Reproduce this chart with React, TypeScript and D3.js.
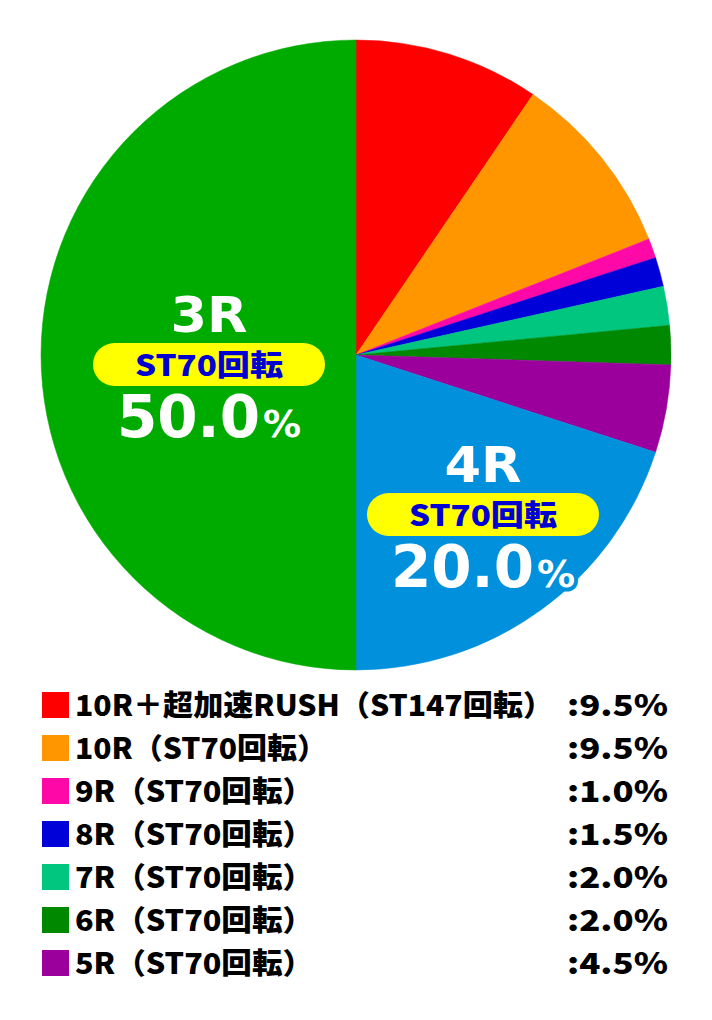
import * as d3 from 'd3';

const NAMES = [
  '10R＋超加速RUSH（ST147回転）',
  '10R（ST70回転）',
  '9R（ST70回転）',
  '8R（ST70回転）',
  '7R（ST70回転）',
  '6R（ST70回転）',
  '5R（ST70回転）',
  '4R（ST70回転）',
  '3R（ST70回転）',
];
const SHARES = [9.5, 9.5, 1.0, 1.5, 2.0, 2.0, 4.5, 20.0, 50.0];
const COLORS = ['#ff0000', '#ff9600', '#ff08a8', '#0000d8', '#00c680', '#008800', '#9c009c', '#0090dc', '#00ab00'];
const LEGEND_COUNT = 7;

// big labels inside the two large slices
const BIG = [
  { idx: 8, round: '3R', sub: 'ST70回転', dx: -147, dy: 12 },
  { idx: 7, round: '4R', sub: 'ST70回転', dx: 127, dy: 162 },
];

const W = 712;
const H = 1020;
const cx = 356;
const cy = 355;
const R = 315;
const LATIN = '"DejaVu Sans", "Noto Sans CJK JP", sans-serif';
const HEAVY = '"Noto Sans CJK JP", sans-serif';

export default function App() {
  const pie = d3.pie<number>().sort(null).value(d => d).startAngle(0).endAngle(Math.PI * 2);
  const arcs = pie(SHARES);
  const arc = d3.arc<d3.PieArcDatum<number>>().innerRadius(0).outerRadius(R);

  const rows = d3.scalePoint<string>()
    .domain(NAMES.slice(0, LEGEND_COUNT))
    .range([705, 963]);

  // legend names are set a touch wider than the font gives
  const nameWidth = (n: string) => (n.length > 14 ? 478 : n.startsWith('10') ? 252 : 238);

  return (
    <svg width={W} height={H} style={{ position: 'absolute', left: 0, top: 0, background: '#fff' }}>
      <g transform={`translate(${cx},${cy})`}>
        {arcs.map((a, i) => (
          <path key={i} d={arc(a) ?? ''} fill={COLORS[i]} stroke={COLORS[i]} strokeWidth={0.5} />
        ))}
        {BIG.map(b => {
          const fill = COLORS[b.idx];
          return (
            <g key={b.round} transform={`translate(${b.dx},${b.dy})`}>
              <text y={-35} textAnchor="middle" fontFamily={LATIN} fontWeight={700} fontSize={49} fill="#fff"
                textLength={77} lengthAdjust="spacingAndGlyphs">
                {b.round}
              </text>
              <rect x={-116} y={-24} width={232} height={43} rx={21.5} fill="#ffff00" />
              <text y={9} textAnchor="middle" fontFamily={HEAVY} fontWeight={900} fontSize={29} fill="#0000d0"
                textLength={148} lengthAdjust="spacingAndGlyphs">
                {b.sub}
              </text>
              <text y={70} textAnchor="middle" fontFamily={LATIN} fontWeight={700} fontSize={58} fill="#fff"
                stroke={fill} strokeWidth={8} strokeLinejoin="round" style={{ paintOrder: 'stroke' }}>
                {SHARES[b.idx].toFixed(1)}
                <tspan fontSize={38} dx={3}>%</tspan>
              </text>
            </g>
          );
        })}
      </g>

      {NAMES.slice(0, LEGEND_COUNT).map((n, i) => {
        const y = rows(n) ?? 0;
        return (
          <g key={n}>
            <rect x={42} y={y - 13} width={27} height={26} fill={COLORS[i]} />
            <text x={75} y={y + 11} fontFamily={HEAVY} fontWeight={900} fontSize={29} fill="#000"
              textLength={nameWidth(n)} lengthAdjust="spacingAndGlyphs">
              {n}
            </text>
            <text x={668} y={y + 11} textAnchor="end" fontFamily={HEAVY} fontWeight={900} fontSize={29} fill="#000"
              textLength={101} lengthAdjust="spacingAndGlyphs">
              {`:${SHARES[i].toFixed(1)}%`}
            </text>
          </g>
        );
      })}
    </svg>
  );
}
